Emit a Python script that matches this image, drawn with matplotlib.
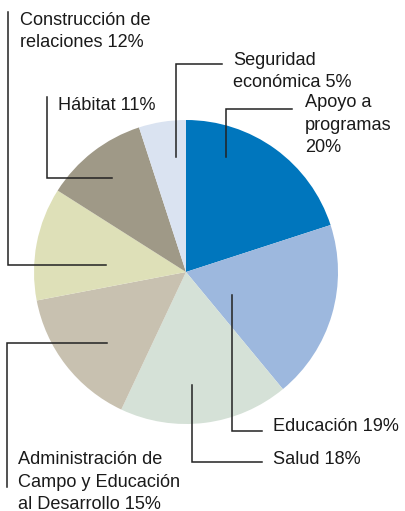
import matplotlib.pyplot as plt

# Datos del gráfico (porcentajes, en sentido horario desde arriba)
categorias = ["Apoyo a programas", "Educación", "Salud",
              "Administración de Campo y Educación al Desarrollo",
              "Construcción de relaciones", "Hábitat", "Seguridad económica"]
valores = [20, 19, 18, 15, 12, 11, 5]
colores = ["#0076bd", "#9db8de", "#d5e1d7", "#c8c1b0",
           "#dee0b8", "#9f9987", "#dae3f1"]

etiquetas = ["Apoyo a\nprogramas\n20%", "Educación 19%", "Salud 18%",
             "Administración de\nCampo y Educación\nal Desarrollo 15%",
             "Construcción de\nrelaciones 12%", "Hábitat 11%",
             "Seguridad\neconómica 5%"]

# posiciones (px) de la línea base de la última línea de cada etiqueta
pos_texto = [(305, 152), (273, 431), (273, 464), (18, 509),
             (20, 47), (58, 110), (233, 87)]
guias = [
    [(226, 157), (226, 109), (292, 109)],
    [(232, 295), (232, 431), (262, 431)],
    [(192, 385), (192, 462), (262, 462)],
    [(107, 343), (7, 343), (7, 487)],
    [(106, 265), (8, 265), (8, 12)],
    [(112, 178), (47, 178), (47, 97)],
    [(176, 157), (176, 64), (222, 64)],
]

plt.rcParams['font.family'] = ['Liberation Sans', 'DejaVu Sans']

fig = plt.figure(figsize=(4.05, 5.11), dpi=100)
ax = fig.add_axes([0, 0, 1, 1])

ax.pie(valores, colors=colores, startangle=-90, counterclock=True,
       center=(186, 272), radius=152, wedgeprops=dict(linewidth=0))

for linea in guias:
    xs = [p[0] for p in linea]
    ys = [p[1] for p in linea]
    ax.plot(xs, ys, color="#222222", linewidth=1.1, solid_joinstyle='miter')

for txt, (x, y) in zip(etiquetas, pos_texto):
    ax.text(x, y, txt, fontsize=13.1, color="#1a1a1a", ha='left',
            va='baseline', linespacing=1.42)

ax.set_xlim(0, 405)
ax.set_ylim(511, 0)
ax.set_aspect('equal')
ax.axis('off')

fig.savefig("out.png", dpi=100, facecolor="white")
